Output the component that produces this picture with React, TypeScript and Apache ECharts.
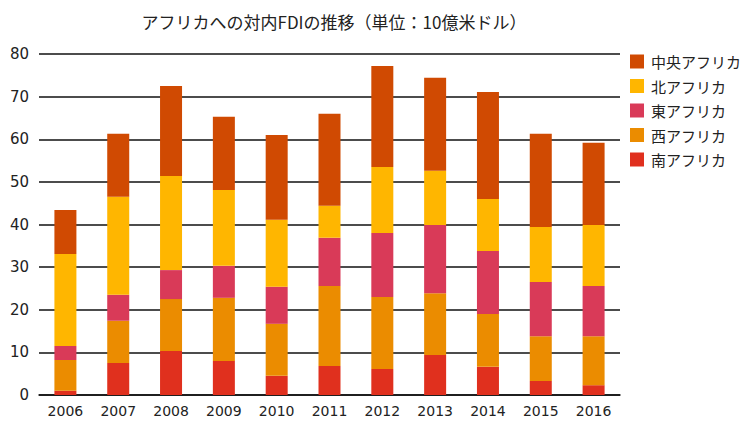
import React, { useEffect, useRef } from "react";
import * as echarts from "echarts";

const years = ["2006", "2007", "2008", "2009", "2010", "2011", "2012", "2013", "2014", "2015", "2016"];
const south = [1.0, 7.5, 10.3, 8.0, 4.5, 6.8, 6.1, 9.4, 6.6, 3.3, 2.3];
const west = [7.2, 9.9, 12.2, 14.8, 12.2, 18.8, 16.9, 14.5, 12.4, 10.5, 11.5];
const east = [3.3, 6.1, 6.8, 7.5, 8.7, 11.3, 15.0, 16.0, 14.8, 12.7, 11.8];
const north = [21.6, 23.0, 22.1, 17.8, 15.7, 7.5, 15.5, 12.7, 12.2, 12.9, 14.3];
const central = [10.3, 14.8, 21.1, 17.2, 19.9, 21.6, 23.7, 21.8, 25.1, 21.9, 19.3];
const yTicks = [0, 10, 20, 30, 40, 50, 60, 70, 80];

const names = ["南アフリカ", "西アフリカ", "東アフリカ", "北アフリカ", "中央アフリカ"];
const colors = ["#E0301E", "#EB8C00", "#D93A58", "#FFB600", "#D04A02"];
const seriesData = [south, west, east, north, central];

const FONT = "'DejaVu Sans', 'Noto Sans CJK JP', sans-serif";
const JFONT = "'Noto Sans CJK JP', 'DejaVu Sans', sans-serif";

export default function App() {
  const ref = useRef<HTMLDivElement>(null);
  useEffect(() => {
    if (!ref.current) return;
    const chart = echarts.init(ref.current, null, { renderer: "svg" });
    chart.setOption({
      animation: false,
      backgroundColor: "#ffffff",
      title: {
        text: "アフリカへの対内FDIの推移（単位：10億米ドル）",
        left: 329,
        textAlign: "center",
        top: 8,
        textStyle: { fontFamily: JFONT, fontSize: 17, fontWeight: "normal", color: "#222" },
      },
      legend: {
        orient: "vertical",
        left: 630,
        top: 54,
        padding: 0,
        itemWidth: 14,
        itemHeight: 14,
        itemGap: 9.5,
        icon: "rect",
        data: [...names].reverse(),
        textStyle: { fontFamily: JFONT, fontSize: 15, color: "#222", padding: [0, 0, 0, 2] },
      },
      grid: { left: 39, right: 132, top: 54, bottom: 34, containLabel: false },
      xAxis: {
        type: "category",
        data: years,
        axisLine: { show: true, lineStyle: { color: "#111", width: 1.5 } },
        axisTick: { show: false },
        axisLabel: { fontFamily: FONT, fontSize: 14, color: "#222", margin: 9 },
      },
      yAxis: {
        type: "value",
        min: yTicks[0],
        max: yTicks[yTicks.length - 1],
        interval: 10,
        axisLine: { show: false },
        axisTick: { show: false },
        splitLine: { lineStyle: { color: "#111", width: 1.5 } },
        axisLabel: { fontFamily: FONT, fontSize: 15, color: "#222", margin: 10 },
      },
      series: names.map((n, i) => ({
        name: n,
        type: "bar",
        stack: "total",
        barWidth: 22,
        data: seriesData[i],
        itemStyle: { color: colors[i] },
      })),
    });
    return () => chart.dispose();
  }, []);
  return <div ref={ref} style={{ width: 752, height: 429, position: "absolute", left: 0, top: 0 }} />;
}
